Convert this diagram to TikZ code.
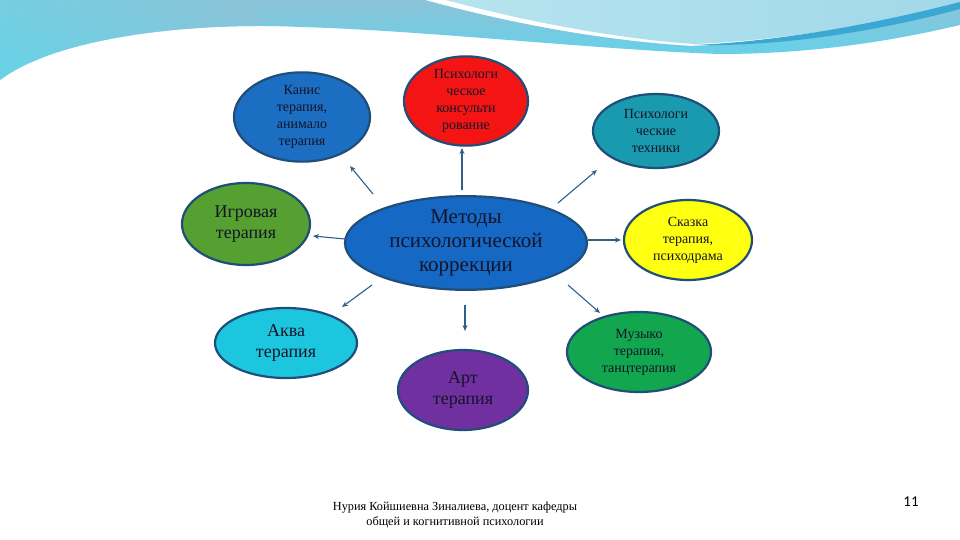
\documentclass[tikz,border=0pt]{standalone}
\usepackage{fontspec}
\setmainfont{Liberation Serif}
\newfontfamily\numfont{Carlito}
\usetikzlibrary{shapes.geometric,arrows.meta}
\definecolor{outl}{HTML}{1F4E79}
\definecolor{arrc}{HTML}{2F5F8A}
\definecolor{txt}{HTML}{141428}
\definecolor{bandTop}{HTML}{8DC3D8}
\definecolor{bandBot}{HTML}{62D2EA}
\definecolor{bandLeft}{HTML}{6ED2E4}
\definecolor{bandC}{HTML}{B6E4EE}
\definecolor{bandD}{HTML}{A2D8EA}
\definecolor{stripe}{HTML}{3AA8D2}
\definecolor{cKanis}{HTML}{1B6EC2}
\definecolor{cRed}{HTML}{F41414}
\definecolor{cTech}{HTML}{1A9AAE}
\definecolor{cIgra}{HTML}{55A030}
\definecolor{cMeth}{HTML}{1568C4}
\definecolor{cSkaz}{HTML}{FFFF10}
\definecolor{cAkva}{HTML}{1CC6DE}
\definecolor{cArt}{HTML}{7030A0}
\definecolor{cMuz}{HTML}{12A64E}
\tikzset{
  ell/.style={ellipse, draw=outl, line width=2.2pt, inner sep=0pt, align=center, text=txt},
  small/.style={font=\fontsize{14}{17}\selectfont},
  mid/.style={font=\fontsize{18}{21.5}\selectfont},
  big/.style={font=\fontsize{21}{24}\selectfont},
  arr/.style={draw=arrc, line width=1.1pt, -{Stealth[length=6pt,width=5pt]}}
}
\begin{document}
\begin{tikzpicture}[x=1pt,y=-1pt]
\useasboundingbox (0,0) rectangle (960,540);
\fill[white] (0,0) rectangle (960,540);
% top banner: lower band
\begin{scope}
\clip (0,0) -- (425,0) .. controls (520,26) and (610,41) .. (692,46)
  .. controls (790,42) and (890,24) .. (960,6) -- (960,25)
  .. controls (880,44) and (800,54) .. (720,54)
  .. controls (600,50) and (420,30) .. (300,27)
  .. controls (200,22) and (60,35) .. (0,80) -- cycle;
\shade[top color=bandTop, bottom color=bandBot] (0,0) rectangle (960,60);
\fill[bandBot] (0,59) rectangle (960,85);
\shade[left color=bandLeft, right color=bandTop, opacity=0.75] (0,0) rectangle (260,85);
\end{scope}
% top-right light region
\shade[left color=bandC, right color=bandD]
  (446,0) -- (960,0) -- (960,3) .. controls (890,22) and (790,40) .. (694,44)
  .. controls (610,38) and (520,20) .. (446,0) -- cycle;
% stripe
\fill[stripe]
  (694,45) .. controls (790,41) and (890,20) .. (960,2)
  -- (960,9) .. controls (890,28) and (790,47) .. (694,45) -- cycle;
% nodes
\node[ell, small, fill=cKanis, minimum width=136pt, minimum height=74pt] (kanis) at (302,117) {Канис\\терапия,\\анимало\\терапия};
\node[ell, small, fill=cRed, minimum width=124pt, minimum height=86pt] (konsult) at (466,101) {Психологи\\ческое\\консульти\\рование};
\node[ell, small, fill=cTech, minimum width=126pt, minimum height=74pt] (tech) at (656,131) {Психологи\\ческие\\техники};
\node[ell, mid, fill=cIgra, minimum width=128pt, minimum height=82pt] (igra) at (246,224) {Игровая\\терапия};
\node[ell, big, fill=cMeth, minimum width=242pt, minimum height=88pt] (meth) at (466,243) {Методы\\психологической\\коррекции};
\node[ell, small, fill=cSkaz, minimum width=128pt, minimum height=80pt] (skazka) at (688,240) {Сказка\\терапия,\\психодрама};
\node[ell, mid, fill=cAkva, minimum width=142pt, minimum height=70pt] (akva) at (286,343) {Аква\\терапия};
\node[ell, mid, fill=cArt, minimum width=130pt, minimum height=80pt] (art) at (463,390) {Арт\\терапия};
\node[ell, small, fill=cMuz, minimum width=144pt, minimum height=80pt] (muz) at (639,352) {Музыко\\терапия,\\танцтерапия};
% arrows
\coordinate (s1) at (373,194); \coordinate (e1) at (350,166);
\coordinate (s2) at (462,190); \coordinate (e2) at (462,148);
\coordinate (s3) at (558,203); \coordinate (e3) at (597,170);
\coordinate (s4) at (345,239); \coordinate (e4) at (313,236);
\coordinate (s5) at (588,240); \coordinate (e5) at (621,240);
\coordinate (s6) at (568,285); \coordinate (e6) at (600,313);
\coordinate (s7) at (465,305); \coordinate (e7) at (465,331);
\coordinate (s8) at (372,285); \coordinate (e8) at (342,307);
\foreach \i in {1,...,8} \draw[arr] (s\i) -- (e\i);
% footer
\node[font=\fontsize{12.3}{15}\selectfont, align=center, text=black] (foot) at (455,515) {Нурия Койшиевна Зиналиева, доцент кафедры\\общей и когнитивной психологии};
\node[font=\numfont\fontsize{15}{18}\selectfont, text=black] (page) at (911,502) {11};
\end{tikzpicture}
\end{document}
